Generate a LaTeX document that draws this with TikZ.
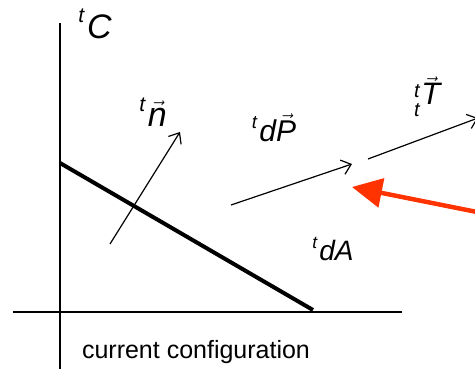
\documentclass[tikz,border=0pt]{standalone}
\usepackage{amsmath}
\usepackage{fontspec}
\setmainfont{Liberation Sans}
\usetikzlibrary{arrows.meta,positioning}
\definecolor{pullred}{HTML}{FF3300}
\newcommand{\vecit}[1]{\ensuremath{\vec{\text{\itshape #1}}}}
\newcommand{\pre}[1]{\raisebox{0.45em}{\fontsize{0.62em}{1em}\selectfont\itshape #1}\kern0.08em}
\newcommand{\prepost}[2]{{\fontsize{20}{21}\selectfont\itshape\rlap{\raisebox{7pt}{#1}}\raisebox{-12pt}{#2}}\kern1.5pt}

\begin{document}
\begin{tikzpicture}[x=1pt,y=-1pt,
 axis/.style={line width=1.2pt},
 surface/.style={line width=4pt},
 vecline/.style={line width=1.2pt,-{Straight Barb[length=9pt,width=15pt]}},
 force/.style={pullred,line width=4.5pt,-{Triangle[length=30pt,width=29pt]}},
 lbl/.style={font=\fontsize{30}{32}\selectfont\itshape,inner sep=0pt}]
\useasboundingbox (0,0) rectangle (475,369);
% axes of the current configuration
\coordinate (ytop) at (60,23);
\coordinate (ybot) at (60,369);
\coordinate (xleft) at (13,312);
\coordinate (xright) at (402,312);
\draw[axis] (ytop)--(ybot);
\draw[axis] (xleft)--(xright);
% surface element
\coordinate (sa) at (60,163);
\coordinate (sb) at (313,310);
\draw[surface] (sa)--(sb);
% normal, force and traction vectors
\coordinate (n0) at (110,244);
\coordinate (n1) at (180,132);
\coordinate (p0) at (231,205);
\coordinate (p1) at (352,164);
\coordinate (t0) at (368,159);
\coordinate (t1) at (478,118);
\coordinate (r0) at (482,213);
\coordinate (r1) at (352,187);
\draw[vecline] (n0)--(n1);
\draw[vecline] (p0)--(p1);
\draw[vecline] (t0)--(t1);
\draw[force] (r0)--(r1);
% labels
\node[lbl,font=\fontsize{34}{36}\selectfont\itshape] (conf) at (95,24) {\pre{t}C};
\node[lbl,font=\fontsize{34}{36}\selectfont\itshape] (normal) at (153,112) {\pre{t}\vecit{n}};
\node[lbl] (dforce) at (274,128) {\pre{t}d\vecit{P}};
\node[lbl,font=\fontsize{31}{33}\selectfont\itshape,anchor=base west] (traction) at (414,105) {\prepost{t}{t}\vecit{T}};
\node[lbl,font=\fontsize{28}{30}\selectfont\itshape] (darea) at (333,249) {\pre{t}dA};
\node[font=\fontsize{25}{28}\selectfont,inner sep=0pt] (caption) at (196,352) {current configuration};
\end{tikzpicture}
\end{document}
